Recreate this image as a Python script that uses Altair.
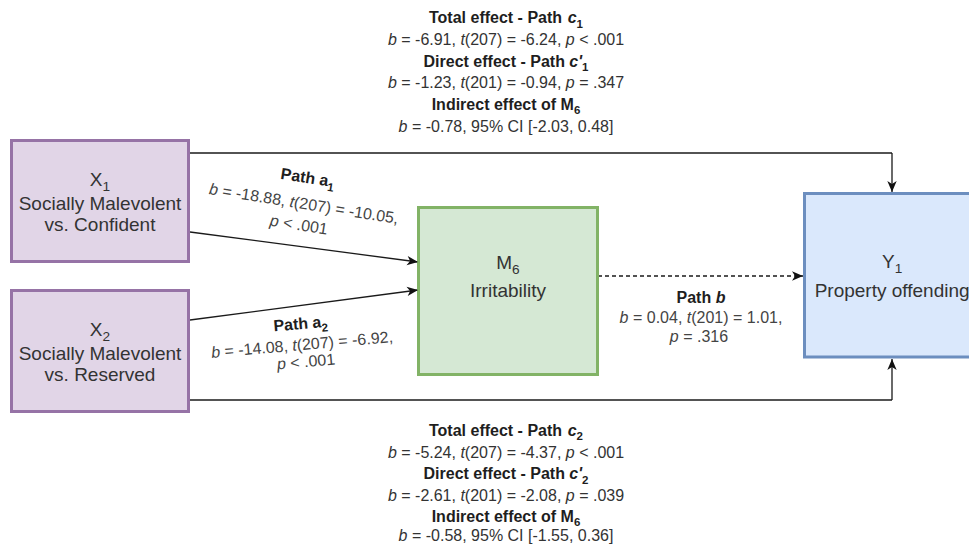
import math
import altair as alt
import pandas as pd

# ---------------- content ----------------
box_letter = ["X", "X", "M", "Y"]
box_sub = ["1", "2", "6", "1"]
box_lines = [["Socially Malevolent", "vs. Confident"],
             ["Socially Malevolent", "vs. Reserved"],
             ["Irritability"],
             ["Property offending"]]
box_fill = ["#e1d5e7", "#e1d5e7", "#d5e8d4", "#dae8fc"]
box_stroke = ["#9673a6", "#9673a6", "#82b366", "#6c8ebf"]

effect_idx = ["1", "2"]
total_b = ["-6.91", "-5.24"]
total_t = ["-6.24", "-4.37"]
total_p = ["< .001", "< .001"]
direct_b = ["-1.23", "-2.61"]
direct_t = ["-0.94", "-2.08"]
direct_p = ["= .347", "= .039"]
ind_b = ["-0.78", "-0.58"]
ind_ci_lo = ["-2.03", "-1.55"]
ind_ci_hi = ["0.48", "0.36"]
a_b = ["-18.88", "-14.08"]
a_t = ["-10.05", "-6.92"]
a_p = ["< .001", "< .001"]
pb_b, pb_t, pb_p = "0.04", "1.01", "= .316"
df_total, df_direct = "207", "201"

# ---------------- layout (page pixels) ----------------
W, H = 961, 536
box_x0 = [11.5, 11.5, 418.5, 804.5]
box_x1 = [188.5, 188.5, 597.5, 980.0]
box_y0 = [140.5, 290.5, 207.5, 193.5]
box_y1 = [261.5, 411.5, 374.5, 357.0]
box_baselines = [[186, 210, 231], [336, 360, 381], [269, 297], [268, 296.5]]

edge_pts = [
    [(190, 232), (418, 262)],
    [(190, 320), (418, 290)],
    [(598, 276), (803, 276)],
    [(190, 153), (892, 153), (892, 192)],
    [(190, 400), (892, 400), (892, 359)],
]
edge_dashed = [False, False, True, False, False]

block_cx = 506
top_base = [23.3, 45, 66.7, 88.3, 110, 131.7]
bot_base = [436, 457.7, 479.3, 500.7, 522.0, 541.0]
a_label_pos = [[(307, 183), (303, 209), (298, 230)],
               [(301, 329), (302.5, 350), (306.5, 367)]]
a_label_angle = [9, 355]
b_label_pos = [(701, 302.7), (701, 323.3), (699, 341.7)]

FONT = "Liberation Sans"
LABEL_FS = 16
BOX_FS = 19

# ---------------- text metrics (Arial-compatible) ----------------
REG = {' ': 278, '%': 889, "'": 191, '(': 333, ')': 333, ',': 278, '-': 333, '.': 278,
       '<': 584, '=': 584, '[': 278, ']': 278,
       'A': 667, 'C': 722, 'D': 722, 'I': 278, 'M': 833, 'P': 667, 'R': 722, 'S': 667,
       'T': 611, 'X': 667, 'Y': 667,
       'a': 556, 'b': 556, 'c': 500, 'd': 556, 'e': 556, 'f': 278, 'g': 556, 'h': 556,
       'i': 222, 'l': 222, 'm': 833, 'n': 556, 'o': 556, 'p': 556, 'r': 333, 's': 500,
       't': 278, 'v': 500, 'y': 500}
BOLD = dict(REG)
BOLD.update({"'": 238, 'A': 722, 'b': 611, 'c': 556, 'd': 611, 'f': 333, 'g': 611,
             'h': 611, 'i': 278, 'l': 278, 'm': 889, 'n': 611, 'o': 611, 'p': 611,
             'r': 389, 's': 556, 't': 333, 'v': 556, 'y': 556})


def text_width(s, bold, fs):
    tbl = BOLD if bold else REG
    return sum(tbl.get(ch, 556) for ch in s) * fs / 1000.0


rows = []


def place_line(runs, cx, cy, fs, color, angle=0.0):
    sub_scale = 0.72
    info = []
    for txt, st in runs:
        bold = st in ("b", "bi", "bs")
        sub = st in ("s", "bs")
        f = fs * sub_scale if sub else fs
        info.append((txt, st, bold, sub, f, text_width(txt, bold, f)))
    total = sum(i[5] for i in info)
    th = math.radians(angle)
    c, s_ = math.cos(th), math.sin(th)
    pos = -total / 2
    for txt, st, bold, sub, f, w in info:
        lead = len(txt) - len(txt.lstrip(' '))
        p = pos + text_width(' ' * lead, bold, f)
        dy = 0.28 * fs if sub else 0.0
        rows.append(dict(x=cx + p * c - dy * s_, y=cy + p * s_ + dy * c,
                         text=txt.strip(), size=f, angle=angle % 360, color=color,
                         weight="bold" if bold else "normal",
                         style="italic" if st in ("i", "bi") else "normal"))
        pos += w


def stat_runs(b, df, t, p):
    return [("b", "i"), (f" = {b}, ", "n"), ("t", "i"), (f"({df}) = {t}, ", "n"),
            ("p", "i"), (f" {p}", "n")]


# effect blocks
for k, bases in enumerate([top_base, bot_base]):
    lines = [
        [("Total effect - Path ", "b"), ("c", "bi"), (effect_idx[k], "bs")],
        stat_runs(total_b[k], df_total, total_t[k], total_p[k]),
        [("Direct effect - Path ", "b"), ("c'", "bi"), (effect_idx[k], "bs")],
        stat_runs(direct_b[k], df_direct, direct_t[k], direct_p[k]),
        [("Indirect effect of M", "b"), ("6", "bs")],
        [("b", "i"), (f" = {ind_b[k]}, 95% CI [{ind_ci_lo[k]}, {ind_ci_hi[k]}]", "n")],
    ]
    for ln, yb in zip(lines, bases):
        col = "#1e1e1e" if ln[0][1] == "b" else "#333333"
        place_line(ln, block_cx, yb, LABEL_FS, col)

# path a labels
for k in range(2):
    lines = [
        [("Path a", "b"), (effect_idx[k], "bs")],
        [("b", "i"), (f" = {a_b[k]}, ", "n"), ("t", "i"), (f"({df_total}) = {a_t[k]},", "n")],
        [("p", "i"), (f" {a_p[k]}", "n")],
    ]
    for j, ln in enumerate(lines):
        col = "#1e1e1e" if j == 0 else "#444444"
        place_line(ln, a_label_pos[k][j][0], a_label_pos[k][j][1], LABEL_FS, col, a_label_angle[k])

# path b label
b_lines = [
    [("Path ", "b"), ("b", "bi")],
    [("b", "i"), (f" = {pb_b}, ", "n"), ("t", "i"), (f"({df_direct}) = {pb_t},", "n")],
    [("p", "i"), (f" {pb_p}", "n")],
]
for j, ln in enumerate(b_lines):
    col = "#1e1e1e" if j == 0 else "#444444"
    place_line(ln, b_label_pos[j][0], b_label_pos[j][1], LABEL_FS, col)

# box labels
for i in range(4):
    cx = (box_x0[i] + box_x1[i]) / 2
    place_line([(box_letter[i], "n"), (box_sub[i], "s")], cx, box_baselines[i][0], BOX_FS, "#333333")
    for ln, yb in zip(box_lines[i], box_baselines[i][1:]):
        place_line([(ln, "n")], cx, yb, BOX_FS, "#333333")

text_df = pd.DataFrame(rows)

boxes = pd.DataFrame(dict(x0=box_x0, x1=box_x1, y0=box_y0, y1=box_y1,
                          fill=box_fill, stroke=box_stroke))

seg_rows, arrow_rows = [], []
for pts, dashed in zip(edge_pts, edge_dashed):
    for (xa, ya), (xb, yb) in zip(pts[:-1], pts[1:]):
        seg_rows.append(dict(x=xa, y=ya, x2=xb, y2=yb, dashed=dashed))
    (xa, ya), (xb, yb) = pts[-2], pts[-1]
    ang = math.degrees(math.atan2(yb - ya, xb - xa)) % 360
    arrow_rows.append(dict(x=xb, y=yb, angle=ang))
segs = pd.DataFrame(seg_rows)
arrows = pd.DataFrame(arrow_rows)

xs = alt.Scale(domain=[8, 8 + W], nice=False, zero=False)
ys = alt.Scale(domain=[8, 8 + H], nice=False, zero=False, reverse=True)


def X(f):
    return alt.X(f"{f}:Q", scale=xs, axis=None)


def Y(f):
    return alt.Y(f"{f}:Q", scale=ys, axis=None)


solid = alt.Chart(segs[~segs.dashed]).mark_rule(color="#1a1a1a", strokeWidth=1.3).encode(
    x=X("x"), y=Y("y"), x2="x2:Q", y2="y2:Q")
dashed = alt.Chart(segs[segs.dashed]).mark_rule(color="#1a1a1a", strokeWidth=1.3,
                                                  strokeDash=[4, 3]).encode(
    x=X("x"), y=Y("y"), x2="x2:Q", y2="y2:Q")

rects = alt.Chart(boxes).mark_rect(strokeWidth=3, clip=True).encode(
    x=X("x0"), x2="x1:Q", y=Y("y0"), y2="y1:Q",
    fill=alt.Fill("fill:N", scale=None), stroke=alt.Stroke("stroke:N", scale=None))

ARROW = "M0,0 L-2,-0.85 L-1.45,0 L-2,0.85 Z"
heads = alt.Chart(arrows).mark_point(shape=ARROW, filled=True, size=121, opacity=1,
                                     color="#111111", strokeWidth=0).encode(
    x=X("x"), y=Y("y"), angle=alt.Angle("angle:Q", scale=None))

text_layers = []
for wt in ["normal", "bold"]:
    for stl in ["normal", "italic"]:
        sub = text_df[(text_df.weight == wt) & (text_df["style"] == stl)]
        if len(sub) == 0:
            continue
        text_layers.append(
            alt.Chart(sub).mark_text(align="left", baseline="alphabetic", font=FONT,
                                     fontWeight=wt, fontStyle=stl).encode(
                x=X("x"), y=Y("y"), text="text:N",
                size=alt.Size("size:Q", scale=None),
                angle=alt.Angle("angle:Q", scale=None),
                color=alt.Color("color:N", scale=None)))

chart = alt.layer(solid, dashed, rects, heads, *text_layers).properties(
    width=W, height=H, padding=0, autosize="none"
).configure_view(stroke=None)

chart.save("out.html", embed_options={"renderer": "svg", "actions": False})
